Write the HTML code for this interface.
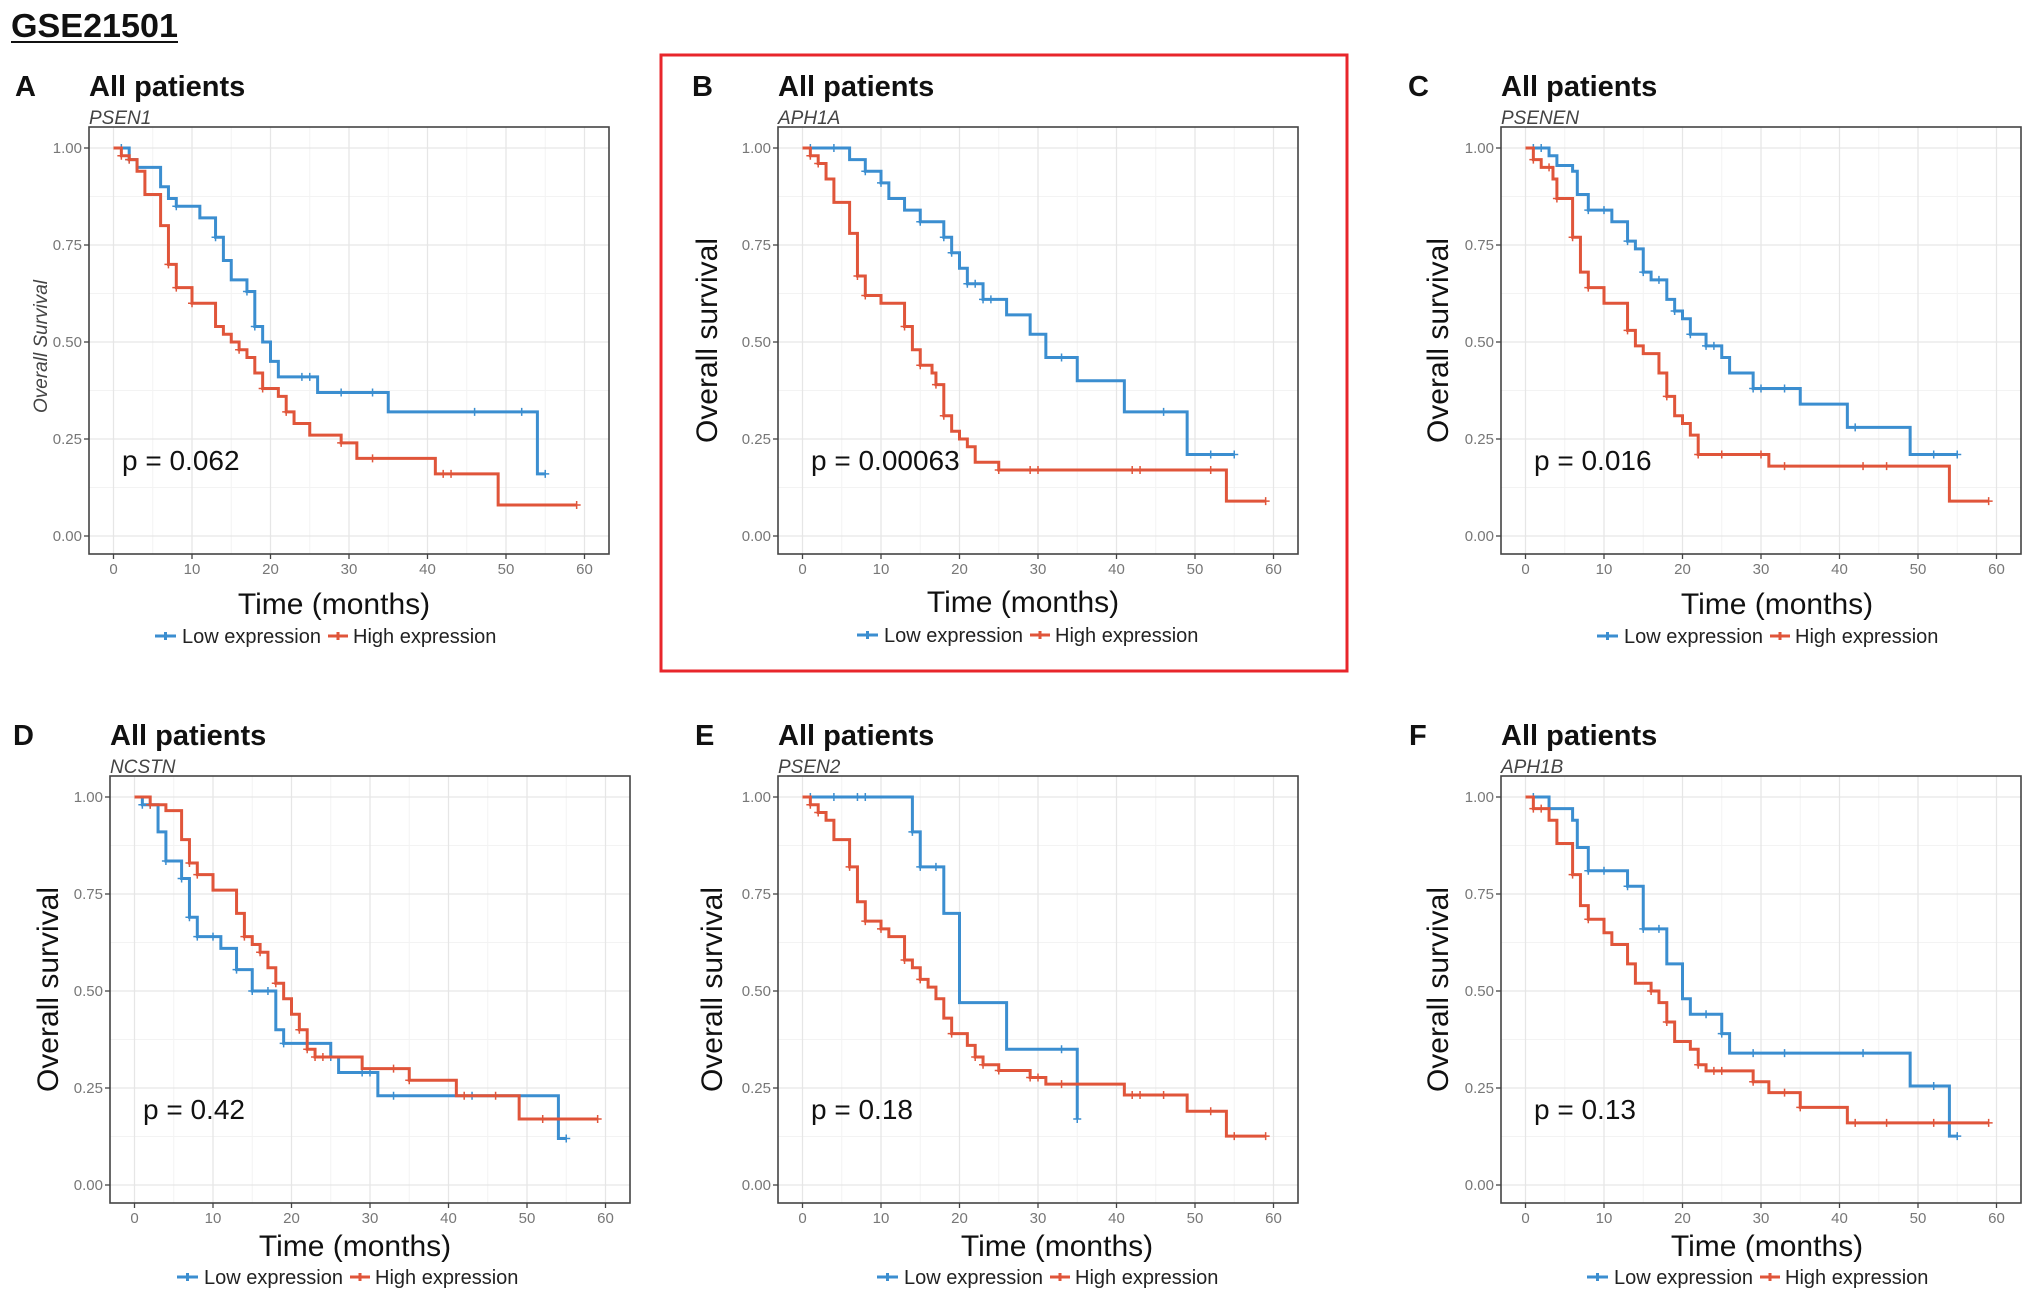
<!DOCTYPE html>
<html><head><meta charset="utf-8">
<style>
html,body{margin:0;padding:0;background:#fff;}
svg{display:block;font-family:"Liberation Sans",Arial,sans-serif;}
</style></head>
<body>
<svg id="fig" width="2031" height="1302" viewBox="0 0 2031 1302" xmlns="http://www.w3.org/2000/svg">
<text x="11" y="37" font-size="33" font-weight="bold" fill="#111" textLength="167" lengthAdjust="spacingAndGlyphs">GSE21501</text>
<line x1="11" y1="42" x2="178" y2="42" stroke="#111" stroke-width="2"/>
<rect x="661" y="55" width="686" height="616" fill="none" stroke="#e8262b" stroke-width="3"/>
</svg>
<script>
// ---- data ----
const xTicks = [0,10,20,30,40,50,60];
const yTicks = [0,0.25,0.5,0.75,1];
const yTickLabels = ["0.00","0.25","0.50","0.75","1.00"];
const panelLetters = ["A","B","C","D","E","F"];
const geneNames = ["PSEN1","APH1A","PSENEN","NCSTN","PSEN2","APH1B"];
const pValues = ["p = 0.062","p = 0.00063","p = 0.016","p = 0.42","p = 0.18","p = 0.13"];

const aLowT=[0,2,3,6,7,8,11,13,14,15,17,18,19,20,21,26,35,54,55];
const aLowS=[1,.97,.95,.90,.87,.85,.82,.77,.71,.66,.63,.54,.50,.45,.41,.37,.32,.16,.16];
const aHighT=[0,1,2,3,4,6,7,8,10,13,14,15,16,17,18,19,21,22,23,25,29,31,41,49,59];
const aHighS=[1,.98,.97,.94,.88,.80,.70,.64,.60,.54,.52,.50,.48,.46,.42,.38,.36,.32,.29,.26,.24,.20,.16,.08,.08];
const bLowT=[0,6,8,10,11,13,15,18,19,20,21,23,26,29,31,35,41,49,55];
const bLowS=[1,.97,.94,.91,.87,.84,.81,.77,.73,.69,.65,.61,.57,.52,.46,.40,.32,.21,.21];
const bHighT=[0,1,2,3,4,6,7,8,10,13,14,15,16.5,17,18,19,20,21,22,25,54,59];
const bHighS=[1,.98,.96,.92,.86,.78,.67,.62,.60,.54,.48,.44,.42,.39,.31,.27,.25,.23,.19,.17,.09,.09];
const cLowT=[0,3,4,6,6.6,8,11,13,14,15,16,18,19,20,21,23,25,26,29,35,41,49,55];
const cLowS=[1,.98,.955,.94,.88,.84,.81,.76,.74,.68,.66,.61,.58,.56,.52,.49,.46,.42,.38,.34,.28,.21,.21];
const cHighT=[0,1,2,3.5,4,6,7,8,10,13,14,15,17,18,19,20,21,22,31,54,59];
const cHighS=[1,.97,.95,.92,.87,.77,.68,.64,.60,.53,.49,.47,.42,.36,.31,.29,.26,.21,.18,.09,.09];
const dLowT=[0,1,3,4,6,7,8,11,13,15,18,19,25,26,31,54,55];
const dLowS=[1,.98,.91,.835,.79,.69,.64,.61,.555,.50,.40,.365,.33,.29,.23,.12,.12];
const dHighT=[0,2,4,6,7,8,10,13,14,15,16,17,18,19,20,21,22,23,29,35,41,49,59];
const dHighS=[1,.98,.965,.89,.83,.80,.76,.70,.64,.62,.60,.56,.52,.48,.44,.40,.35,.33,.30,.27,.23,.17,.17];
const eLowT=[0,14,15,18,20,26,35,35];
const eLowS=[1,.91,.82,.70,.47,.35,.17,.17];
const eHighT=[0,1,2,3,4,6,7,8,10,11,13,14,15,16,17,18,19,21,22,23,25,29,31,41,49,54,59];
const eHighS=[1,.98,.96,.94,.89,.82,.73,.68,.66,.64,.58,.56,.53,.51,.48,.43,.39,.36,.33,.31,.295,.277,.26,.232,.19,.126,.126];
const fLowT=[0,3,6,6.6,8,13,15,18,20,21,25,26,49,54,55];
const fLowS=[1,.97,.94,.87,.81,.77,.66,.57,.48,.44,.39,.34,.255,.126,.126];
const fHighT=[0,1,3,4,6,7,8,10,11,13,14,16,17,18,19,21,22,23,29,31,35,41,59];
const fHighS=[1,.97,.94,.88,.80,.72,.685,.65,.62,.57,.52,.50,.47,.42,.37,.35,.31,.294,.266,.238,.20,.16,.16];

const aLowC=[1,2,8,13,17,18,24,25,29,33,46,52,55];
const aHighC=[1,2,7,8,10,16,19,22,29,33,42,43,59];
const bLowC=[1,4,8,10,15,18,19,21,22,23,24,33,46,52,55];
const bHighC=[1,2,7,8,13,15,17,18,25,29,30,42,43,52,59];
const cLowC=[1,2,8,10,13,15,17,19,21,23,24,29,30,33,42,52,55];
const cHighC=[1,3,4,6,8,13,18,22,25,30,33,43,46,59];
const dLowC=[1,2,4,6,7,8,10,13,15,17,19,25,29,30,33,43,55];
const dHighC=[2,7,8,14,16,18,21,22,23,24,33,35,42,46,52,59];
const eLowC=[1,4,7,8,14,15,17,33,35];
const eHighC=[1,2,6,8,10,13,15,19,22,23,25,29,30,33,42,43,46,52,55,59];
const fLowC=[1,8,10,13,15,17,23,25,29,33,43,52,55];
const fHighC=[1,2,6,8,16,18,22,24,25,29,33,35,42,46,52,59];

const lowT=[aLowT,bLowT,cLowT,dLowT,eLowT,fLowT];
const lowS=[aLowS,bLowS,cLowS,dLowS,eLowS,fLowS];
const highT=[aHighT,bHighT,cHighT,dHighT,eHighT,fHighT];
const highS=[aHighS,bHighS,cHighS,dHighS,eHighS,fHighS];
const lowC=[aLowC,bLowC,cLowC,dLowC,eLowC,fLowC];
const highC=[aHighC,bHighC,cHighC,dHighC,eHighC,fHighC];

// ---- layout ----
const boxLeft=[89,778,1501,110,778,1501];
const boxTop=[127,127,127,776,776,776];
const letterX=[15,692,1408,13,695,1409];
const ylabX=[41,707,1438,48,712,1438];
const xlabX=[334,1023,1777,355,1057,1767];
const xlabY=[614,612,614,1256,1256,1256];
const legX=[155,857,1597,177,877,1587];
const legY=[636,635,636,1277,1277,1277];
const BW=520,BH=427;
const BLUE="#3b8ed0",RED="#e0553a";

const NS="http://www.w3.org/2000/svg";
const svg=document.getElementById('fig');
function mk(tag,attrs,parent){const e=document.createElementNS(NS,tag);for(const k in attrs)e.setAttribute(k,attrs[k]);(parent||svg).appendChild(e);return e;}

for(let p=0;p<6;p++){
  const L=boxLeft[p],T=boxTop[p];
  const x0=L+24.5, xspan=471, yTop=T+21, yspan=388;
  const px=t=>x0+t*xspan/60;
  const py=s=>yTop+(1-s)*yspan;
  const g=mk('g',{});
  
  

  let t=mk('text',{x:letterX[p],y:T-31,'font-size':29,'font-weight':'bold',fill:'#111'},g);t.textContent=panelLetters[p];
  
  
  t=mk('text',{x:L,y:T-31,'font-size':29,'font-weight':'bold',fill:'#111'},g);t.textContent='All patients';
  
  
  t=mk('text',{x:L,y:T-3,'font-size':19,'font-style':'italic',fill:'#444'},g);t.textContent=geneNames[p];
  
  

  // grid
  for(let v=5;v<60;v+=10){const l=mk('line',{x1:px(v),x2:px(v),y1:T,y2:T+BH,stroke:'#f3f3f3','stroke-width':1},g);
    
    }
  for(let v=0.125;v<1;v+=0.25){const l=mk('line',{x1:L,x2:L+BW,y1:py(v),y2:py(v),stroke:'#f3f3f3','stroke-width':1},g);
    
    }
  xTicks.forEach(v=>{const l=mk('line',{x1:px(v),x2:px(v),y1:T,y2:T+BH,stroke:'#e6e6e6','stroke-width':1.3},g);
    
    
    const tk=mk('line',{x1:px(v),x2:px(v),y1:T+BH,y2:T+BH+5,stroke:'#444','stroke-width':1.3},g);
    
    
    const tl=mk('text',{x:px(v),y:T+BH+20,'font-size':15,fill:'#777','text-anchor':'middle'},g);tl.textContent=v;
    
    });
  yTicks.forEach((v,i)=>{const l=mk('line',{x1:L,x2:L+BW,y1:py(v),y2:py(v),stroke:'#e6e6e6','stroke-width':1.3},g);
    
    
    const tk=mk('line',{x1:L-5,x2:L,y1:py(v),y2:py(v),stroke:'#444','stroke-width':1.3},g);
    
    
    const tl=mk('text',{x:L-7,y:py(v)+5,'font-size':15,fill:'#777','text-anchor':'end'},g);tl.textContent=yTickLabels[i];
    
    });

  // curves
  const series=[[lowT[p],lowS[p],lowC[p],BLUE,'low-expression-curve'],[highT[p],highS[p],highC[p],RED,'high-expression-curve']];
  series.forEach(([ts,ss,cs,col,nm])=>{
    let d='M'+px(ts[0])+','+py(ss[0]);
    for(let i=1;i<ts.length;i++){d+=' H'+px(ts[i])+' V'+py(ss[i]);}
    const path=mk('path',{d:d,fill:'none',stroke:col,'stroke-width':3},g);
    
    
    cs.forEach(c=>{let s=ss[0];for(let i=0;i<ts.length;i++){if(ts[i]<=c)s=ss[i];}
      const m=mk('path',{d:'M'+(px(c)-4)+','+py(s)+' h8 M'+px(c)+','+(py(s)-4)+' v8',stroke:col,'stroke-width':1.5,fill:'none'},g);
      
      });
  });

  // border
  const b=mk('rect',{x:L,y:T,width:BW,height:BH,fill:'none',stroke:'#444','stroke-width':1.6},g);
  
  

  t=mk('text',{x:L+33,y:T+343,'font-size':28,fill:'#111'},g);t.textContent=pValues[p];
  
  

  // y label
  const cy=T+BH/2;
  if(p===0){t=mk('text',{x:ylabX[p],y:cy,'font-size':19,'font-style':'italic',fill:'#444','text-anchor':'middle',transform:'rotate(-90 '+(ylabX[p]+6)+' '+cy+')'},g);t.textContent='Overall Survival';}
  else{t=mk('text',{x:ylabX[p]+10,y:cy,'font-size':30,fill:'#111','text-anchor':'middle',transform:'rotate(-90 '+(ylabX[p]+10)+' '+cy+')'},g);t.textContent='Overall survival';}
  
  

  t=mk('text',{x:xlabX[p],y:xlabY[p],'font-size':30,fill:'#111','text-anchor':'middle'},g);t.textContent='Time (months)';
  
  

  // legend
  const lx=legX[p],ly=legY[p];
  const lg=mk('g',{},g);
  
  
  let k=mk('path',{d:'M'+lx+','+ly+' h21 M'+(lx+10.5)+','+(ly-4)+' v8',stroke:BLUE,'stroke-width':3,fill:'none'},lg);
  
  
  t=mk('text',{x:lx+27,y:ly+7,'font-size':20,fill:'#222'},lg);t.textContent='Low expression';
  
  
  k=mk('path',{d:'M'+(lx+173)+','+ly+' h20 M'+(lx+183)+','+(ly-4)+' v8',stroke:RED,'stroke-width':3,fill:'none'},lg);
  
  
  t=mk('text',{x:lx+198,y:ly+7,'font-size':20,fill:'#222'},lg);t.textContent='High expression';
  
  
}
</script>
</body></html>
